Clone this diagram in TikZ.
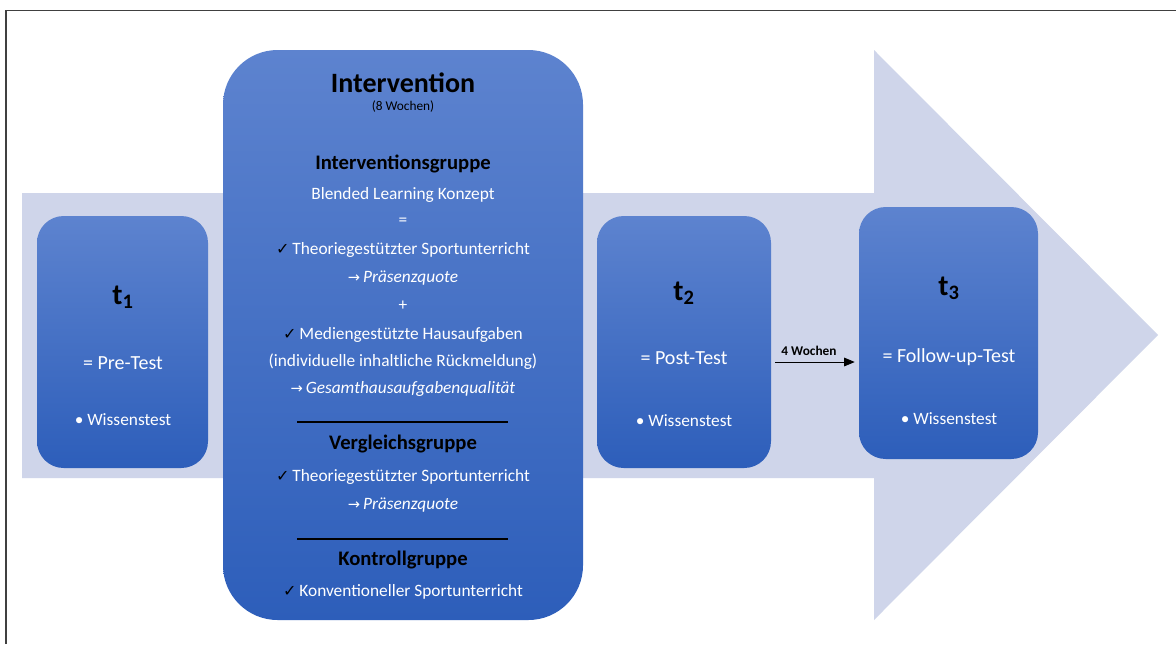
\documentclass[tikz,border=0pt]{standalone}
\usepackage{fontspec}
\setmainfont{Carlito}
\newfontfamily\symf{DejaVu Sans}
\usetikzlibrary{calc,arrows.meta}
\definecolor{bgarrow}{RGB}{207,213,234}
\definecolor{boxtop}{RGB}{93,131,207}
\definecolor{boxbot}{RGB}{45,94,186}
\definecolor{framec}{RGB}{64,64,64}
\newcommand{\mychk}{{\symf\color{black}\fontsize{12}{14}\selectfont ✓}\,}
\newcommand{\myarr}{{\symf\fontsize{11}{14}\selectfont →}\,}
\begin{document}
\begin{tikzpicture}[x=0.75pt,y=-0.75pt,
  box/.style={shade, top color=boxtop, bottom color=boxbot, draw=none, inner sep=0pt},
  body/.style={text=white, font=\fontsize{13}{15}\selectfont, inner sep=0pt, anchor=center},
  mid/.style={text=white, font=\fontsize{15}{18}\selectfont, inner sep=0pt, anchor=center},
  head/.style={text=black, font=\fontsize{15.5}{18}\selectfont\bfseries, inner sep=0pt, anchor=center},
  tlab/.style={text=black, font=\fontsize{22}{24}\selectfont\bfseries, inner sep=0pt, anchor=center},
  sepline/.style={draw=black, line width=1.1pt},
  conn/.style={draw=black, line width=0.6pt, -{Triangle[length=8pt,width=6.5pt]}}
]
\useasboundingbox (0,0) rectangle (1176,644);
\fill[white] (0,0) rectangle (1176,644);
% frame
\draw[framec, line width=1.2pt] (6,644) -- (6,10.5) -- (1176,10.5);
% big arrow
\fill[bgarrow] (22,193) -- (874,193) -- (874,50) -- (1158,335) -- (874,620) -- (874,478) -- (22,478) -- cycle;

% boxes
\node[box, rounded corners=20pt, minimum width=128.25pt, minimum height=189pt] (t1box) at (122.5,342) {};
\node[box, rounded corners=41pt, minimum width=270pt, minimum height=427.5pt] (ivbox) at (403,335) {};
\node[box, rounded corners=20pt, minimum width=130.5pt, minimum height=189pt] (t2box) at (684,342) {};
\node[box, rounded corners=20pt, minimum width=134.25pt, minimum height=189pt] (t3box) at (948.5,333) {};

% t1
\node[tlab] (t1) at (123,297) {t\textsubscript{1}};
\node[mid] (pre) at (123,363) {= Pre-Test};
\node[body] (w1) at (123,420) {• Wissenstest};

% t2
\node[tlab] (t2) at (684,293) {t\textsubscript{2}};
\node[mid] (post) at (684,358) {= Post-Test};
\node[body] (w2) at (684,421) {• Wissenstest};

% t3
\node[tlab] (t3) at (949,288) {t\textsubscript{3}};
\node[mid] (fol) at (949,357) {= Follow-up-Test};
\node[body] (w3) at (949,419) {• Wissenstest};

% intervention
\node[text=black, font=\fontsize{21}{24}\selectfont\bfseries, inner sep=0pt] (ivt) at (403,83) {Intervention};
\node[text=black, font=\fontsize{10}{12}\selectfont, inner sep=0pt] (ivw) at (403,107) {(8 Wochen)};
\node[head] (ig) at (403,164) {Interventionsgruppe};
\node[body] (bl) at (403,195) {Blended Learning Konzept};
\node[body] (eq) at (403,222) {=};
\node[body] (th1) at (403,250) {\mychk Theoriegestützter Sportunterricht};
\node[body] (pq1) at (403,278) {\myarr\textit{Präsenzquote}};
\node[body] (pl) at (403,306) {+};
\node[body] (mh) at (403,335) {\mychk Mediengestützte Hausaufgaben};
\node[body] (ir) at (403,362) {(individuelle inhaltliche Rückmeldung)};
\node[body] (gq) at (403,389) {\myarr\textit{Gesamthausaufgabenqualität}};
\draw[sepline] (297,422) -- (508,422);
\node[head] (vg) at (403,444) {Vergleichsgruppe};
\node[body] (th2) at (403,477) {\mychk Theoriegestützter Sportunterricht};
\node[body] (pq2) at (403,505) {\myarr\textit{Präsenzquote}};
\draw[sepline] (297,539) -- (508,539);
\node[head] (kg) at (403,560) {Kontrollgruppe};
\node[body] (ks) at (403,592) {\mychk Konventioneller Sportunterricht};

% 4 Wochen arrow
\coordinate (ay) at (0,362);
\draw[conn] ($(t2box.east|-ay)+(4,0)$) -- ($(t3box.west|-ay)+(-4,0)$);
\node[text=black, font=\fontsize{10}{12}\selectfont\bfseries, inner sep=0pt] (wl) at (809,351) {4 Wochen};
\end{tikzpicture}
\end{document}
